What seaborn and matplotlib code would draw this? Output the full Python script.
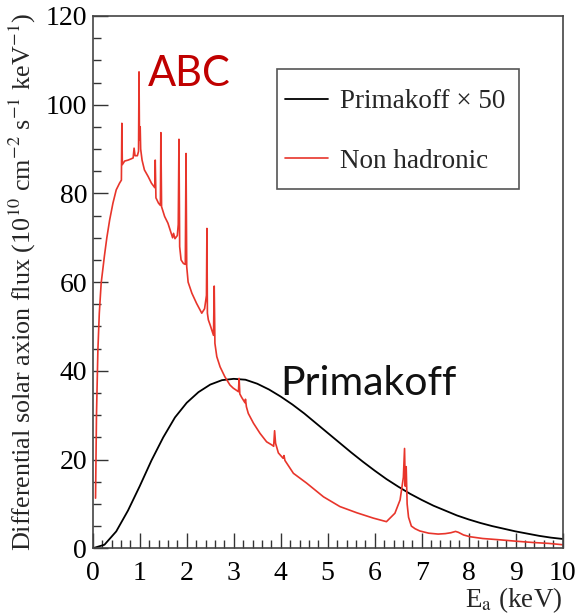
import numpy as np
import pandas as pd
import matplotlib
matplotlib.use("Agg")
import matplotlib.pyplot as plt
from matplotlib.patches import Rectangle
from matplotlib.ticker import MultipleLocator
import seaborn as sns

# ---- data ----
prim_E = [0.0, 0.25, 0.5, 0.75, 1.0, 1.25, 1.5, 1.75, 2.0, 2.25, 2.5, 2.75, 3.0,
          3.25, 3.5, 3.75, 4.0, 4.25, 4.5, 4.75, 5.0, 5.25, 5.5, 5.75, 6.0, 6.25,
          6.5, 6.75, 7.0, 7.25, 7.5, 7.75, 8.0, 8.25, 8.5, 8.75, 9.0, 9.25, 9.5,
          9.75, 10.0]
prim_flux = [0.0, 0.8, 3.8, 8.5, 14.0, 19.8, 25.0, 29.5, 32.8, 35.2, 36.9, 37.9, 38.2,
             38.0, 37.1, 35.8, 34.2, 32.4, 30.4, 28.2, 26.0, 23.8, 21.6, 19.5, 17.5, 15.6,
             13.9, 12.3, 10.9, 9.6, 8.5, 7.4, 6.5, 5.7, 5.0, 4.4, 3.8, 3.3, 2.8,
             2.4, 2.1]

nh_E = [0.06, 0.08, 0.11, 0.14, 0.18, 0.25, 0.30, 0.36, 0.43, 0.50, 0.57, 0.61, 0.62, 0.63,
        0.68, 0.75, 0.82, 0.86, 0.88, 0.90, 0.95, 0.975, 0.985, 0.995, 1.01, 1.02, 1.05,
        1.10, 1.18, 1.25, 1.32, 1.33, 1.345, 1.40, 1.44, 1.45, 1.465, 1.53, 1.60, 1.67,
        1.70, 1.72, 1.75, 1.80, 1.82, 1.835, 1.85, 1.88, 1.93, 1.97, 1.985, 2.00, 2.03,
        2.11, 2.21, 2.32, 2.38, 2.42, 2.43, 2.44, 2.46, 2.50, 2.57, 2.585, 2.60, 2.64,
        2.71, 2.81, 2.92, 2.99, 3.06, 3.10, 3.115, 3.13, 3.17, 3.24, 3.25, 3.27, 3.31,
        3.42, 3.56, 3.70, 3.81, 3.85, 3.87, 3.89, 3.95, 4.05, 4.07, 4.09, 4.27, 4.55,
        4.91, 5.26, 5.62, 5.97, 6.25, 6.43, 6.54, 6.57, 6.61, 6.635, 6.65, 6.67, 6.69,
        6.72, 6.78, 6.86, 6.96, 7.15, 7.35, 7.50, 7.62, 7.72, 7.78, 7.89, 8.03, 8.3,
        8.67, 9.0, 9.37, 9.7, 10.0]
nh_flux = [11.3, 30.0, 44.7, 53.0, 59.8, 66.0, 70.0, 74.0, 77.8, 80.8, 82.3, 83.0, 95.8, 86.5,
           87.3, 87.5, 87.8, 88.0, 90.2, 88.5, 88.5, 89.5, 107.4, 92.0, 95.0, 90.0, 87.5,
           85.3, 83.8, 82.3, 81.3, 87.5, 79.0, 77.8, 77.3, 93.7, 77.0, 74.8, 73.3, 71.0,
           70.0, 71.0, 69.8, 70.5, 73.0, 92.2, 68.0, 65.0, 64.2, 64.0, 89.0, 63.5, 60.0,
           57.5, 55.2, 53.0, 54.0, 57.0, 72.1, 53.0, 51.5, 50.3, 48.0, 59.1, 46.2, 43.2,
           40.9, 38.7, 36.8, 36.1, 35.6, 35.3, 38.3, 34.8, 34.0, 32.8, 33.6, 31.9, 30.4,
           28.2, 25.9, 24.0, 23.3, 23.0, 26.5, 23.7, 21.5, 20.3, 20.9, 19.8, 16.9, 14.7,
           11.6, 9.4, 8.0, 6.8, 6.0, 7.9, 10.9, 13.1, 16.0, 22.5, 14.0, 18.4, 10.0,
           7.0, 5.0, 4.4, 3.9, 3.4, 3.2, 3.3, 3.5, 3.8, 3.6, 3.0, 2.6, 2.2,
           1.9, 1.6, 1.3, 1.1, 0.8]

series_labels = ["Primakoff \u00d7 50", "Non hadronic"]
x_ticks = [0, 1, 2, 3, 4, 5, 6, 7, 8, 9, 10]
y_ticks = [0, 20, 40, 60, 80, 100, 120]

# ---- style ----
sns.set_style("ticks")
plt.rcParams["font.family"] = ["Liberation Serif", "DejaVu Serif"]
plt.rcParams["mathtext.fontset"] = "stix"

prim_df = pd.DataFrame({"E": prim_E, "flux": prim_flux})
nh_df = pd.DataFrame({"E": nh_E, "flux": nh_flux})

fig = plt.figure(figsize=(5.77, 6.15), dpi=100)
ax = fig.add_axes([0.1607, 0.1085, 0.8145, 0.8655])

red = "#e8352b"
sns.lineplot(data=prim_df, x="E", y="flux", ax=ax, color="black", lw=1.3,
             estimator=None, label=series_labels[0])
sns.lineplot(data=nh_df, x="E", y="flux", ax=ax, color=red, lw=1.2,
             estimator=None, label=series_labels[1])

ax.set_xlim(0, 10)
ax.set_ylim(0, 120)
ax.set_xticks(x_ticks)
ax.set_yticks(y_ticks)
ax.xaxis.set_minor_locator(MultipleLocator(0.2))
ax.yaxis.set_minor_locator(MultipleLocator(5))
ax.tick_params(which="both", direction="in", colors="#333333", width=1.0,
               labelcolor="black", labelsize=20)
ax.tick_params(which="major", length=11)
ax.tick_params(which="minor", length=5.5)
ax.tick_params(axis="x", pad=9)
ax.tick_params(axis="y", pad=4)
for sp in ax.spines.values():
    sp.set_visible(True)
    sp.set_color("#444444")
    sp.set_linewidth(1.2)

ax.set_xlabel("")
ax.set_ylabel(r"Differential solar axion flux (10$^{10}$ cm$^{-2}$ s$^{-1}$ keV$^{-1}$)",
              fontsize=18.8)
ax.yaxis.set_label_coords(-0.117, 0.5)
fig.text(0.975, 0.013, r"E$_{\mathrm{a}}$ (keV)", ha="right", va="baseline", fontsize=19.5)

# legend
ax.add_patch(Rectangle((0.392, 0.6744), 0.5157, 0.2256, transform=ax.transAxes,
                       fill=False, edgecolor="#555555", lw=1.2, zorder=5))
leg = ax.legend(loc="upper left", bbox_to_anchor=(0.409, 0.862), frameon=False,
                fontsize=19.5, handlelength=1.6, handletextpad=0.45,
                labelspacing=1.26, borderpad=0, borderaxespad=0)

ax.text(1.18, 104.2, "ABC", color="#c00000", fontsize=30, family="Lato",
        ha="left", va="baseline")
ax.text(3.99, 34.5, "Primakoff", color="#111111", fontsize=29.5, family="Lato",
        ha="left", va="baseline")

fig.savefig("out.png", dpi=100)
